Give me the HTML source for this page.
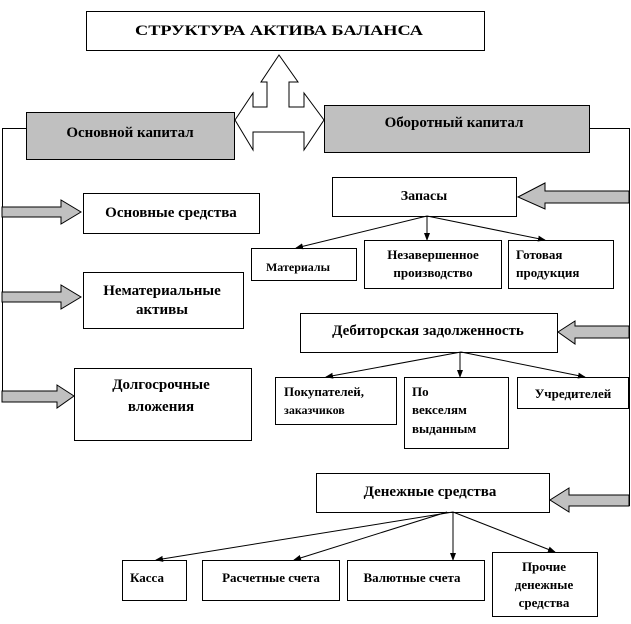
<!DOCTYPE html>
<html><head><meta charset="utf-8"><style>
html,body{margin:0;padding:0;background:#fff;}
svg{display:block;}
text{font-family:"Liberation Serif",serif;font-weight:bold;fill:#000;}
</style></head><body>
<svg width="631" height="624" viewBox="0 0 631 624" xmlns="http://www.w3.org/2000/svg">
<defs><marker id="a" markerWidth="8" markerHeight="8" refX="7" refY="4" orient="auto" markerUnits="userSpaceOnUse"><path d="M0,1 L8,4 L0,7 Z" fill="#000"/></marker></defs>
<g stroke="#000" stroke-width="1" fill="none">
<rect x="86.5" y="11.5" width="398" height="39" fill="#fff"/>
<!-- double arrow -->
<path d="M279,55 L298,82 L289,82 L289,107 L304,107 L304,93 L324,120 L304,150 L304,132 L253,132 L253,150 L235,120 L253,93 L253,107 L267,107 L267,82 L261,82 Z" fill="#fff"/>
<rect x="26.5" y="112.5" width="208" height="47" fill="#c0c0c0"/>
<rect x="324.5" y="105.5" width="265" height="47" fill="#c0c0c0"/>
<path d="M26,128.5 H2.5 V398"/>
<path d="M589,128.5 H629.5 V506"/>
<rect x="332.5" y="177.5" width="184" height="39" fill="#fff"/>
<rect x="83.5" y="193.5" width="176" height="40" fill="#fff"/>
<rect x="251.5" y="248.5" width="105" height="32" fill="#fff"/>
<rect x="364.5" y="240.5" width="137" height="48" fill="#fff"/>
<rect x="508.5" y="240.5" width="105" height="48" fill="#fff"/>
<rect x="83.5" y="272.5" width="160" height="56" fill="#fff"/>
<rect x="300.5" y="313.5" width="257" height="39" fill="#fff"/>
<rect x="74.5" y="368.5" width="177" height="72" fill="#fff"/>
<rect x="275.5" y="377.5" width="121" height="47" fill="#fff"/>
<rect x="404.5" y="377.5" width="104" height="71" fill="#fff"/>
<rect x="517.5" y="377.5" width="111" height="31" fill="#fff"/>
<rect x="316.5" y="473.5" width="233" height="39" fill="#fff"/>
<rect x="122.5" y="560.5" width="64" height="40" fill="#fff"/>
<rect x="202.5" y="560.5" width="137" height="40" fill="#fff"/>
<rect x="347.5" y="560.5" width="137" height="40" fill="#fff"/>
<rect x="492.5" y="552.5" width="105" height="64" fill="#fff"/>
<!-- gray block arrows -->
<g fill="#c0c0c0">
<path d="M2,207 H61 V200 L81,212 L61,224 V217 H2 Z"/>
<path d="M2,292 H61 V285 L81,297 L61,309 V302 H2 Z"/>
<path d="M2,391 H57 V385 L74,396 L57,408 V402 H2 Z"/>
<path d="M629,191 H545 V183 L518,197 L545,209 V203 H629 Z"/>
<path d="M629,326 H575 V321 L558,332 L575,344 V338 H629 Z"/>
<path d="M629,495 H569 V488 L550,500 L569,512 V506 H629 Z"/>
</g>
<!-- connectors -->
<g marker-end="url(#a)">
<line x1="427" y1="216" x2="296" y2="248"/>
<line x1="427" y1="216" x2="427" y2="240"/>
<line x1="427" y1="216" x2="545" y2="240"/>
<line x1="461" y1="352" x2="326" y2="377"/>
<line x1="460" y1="352" x2="460" y2="377"/>
<line x1="461" y1="352" x2="585" y2="377"/>
<line x1="453" y1="512" x2="156" y2="560"/>
<line x1="447" y1="512" x2="294" y2="560"/>
<line x1="453" y1="512" x2="453" y2="560"/>
<line x1="453" y1="512" x2="555" y2="552"/>
</g>
</g>
<text x="279" y="35" font-size="15" text-anchor="middle" textLength="288" lengthAdjust="spacingAndGlyphs">СТРУКТУРА АКТИВА БАЛАНСА</text>
<text x="130" y="137" font-size="15" text-anchor="middle">Основной капитал</text>
<text x="454" y="127" font-size="15" text-anchor="middle">Оборотный капитал</text>
<text x="424" y="200" font-size="14" text-anchor="middle">Запасы</text>
<text x="171" y="217" font-size="15" text-anchor="middle">Основные средства</text>
<text x="298" y="271" font-size="12" text-anchor="middle">Материалы</text>
<text x="433" y="259" font-size="13" text-anchor="middle">Незавершенное</text>
<text x="433" y="277" font-size="13" text-anchor="middle">производство</text>
<text x="516" y="259" font-size="13">Готовая</text>
<text x="516" y="277" font-size="13">продукция</text>
<text x="162" y="295" font-size="15" text-anchor="middle">Нематериальные</text>
<text x="162" y="314" font-size="15" text-anchor="middle">активы</text>
<text x="428" y="335" font-size="15" text-anchor="middle">Дебиторская задолженность</text>
<text x="161" y="389" font-size="15" text-anchor="middle">Долгосрочные</text>
<text x="161" y="411" font-size="15" text-anchor="middle">вложения</text>
<text x="284" y="396" font-size="13">Покупателей,</text>
<text x="284" y="414" font-size="12">заказчиков</text>
<text x="412" y="396" font-size="13">По</text>
<text x="412" y="414" font-size="13">векселям</text>
<text x="412" y="433" font-size="13">выданным</text>
<text x="573" y="398" font-size="13" text-anchor="middle">Учредителей</text>
<text x="430" y="496" font-size="15" text-anchor="middle">Денежные средства</text>
<text x="130" y="582" font-size="13">Касса</text>
<text x="271" y="582" font-size="13" text-anchor="middle">Расчетные счета</text>
<text x="412" y="582" font-size="13" text-anchor="middle">Валютные счета</text>
<text x="544" y="571" font-size="13" text-anchor="middle">Прочие</text>
<text x="544" y="589" font-size="13" text-anchor="middle">денежные</text>
<text x="544" y="607" font-size="13" text-anchor="middle">средства</text>
</svg>
</body></html>
